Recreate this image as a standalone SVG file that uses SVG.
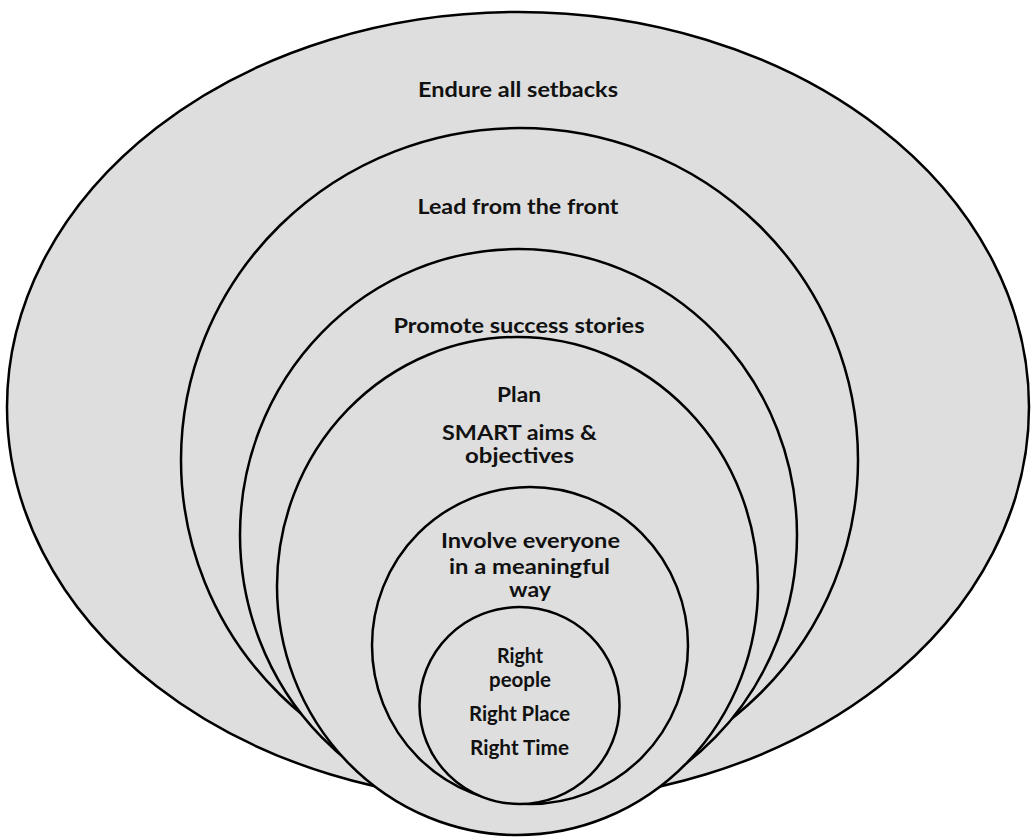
<svg xmlns="http://www.w3.org/2000/svg" width="1033" height="837" viewBox="0 0 1033 837">
<style>
.ring{fill:#dedede;stroke:#000;stroke-width:2.5}
.t{font-family:Lato,"Open Sans","Liberation Sans",sans-serif;font-weight:bold;font-size:21px;fill:#111;text-anchor:middle}
</style>
<rect width="1033" height="837" fill="#fff"/>
<g id="endure">
<ellipse class="ring" cx="518" cy="407" rx="511" ry="395"/>
<text class="t" x="518" y="97" textLength="200" lengthAdjust="spacingAndGlyphs">Endure all setbacks</text>
</g>
<g id="lead">
<ellipse class="ring" cx="519.5" cy="460" rx="338.5" ry="332"/>
<text class="t" x="518" y="214" textLength="201" lengthAdjust="spacingAndGlyphs">Lead from the front</text>
</g>
<g id="promote">
<ellipse class="ring" cx="518.5" cy="535" rx="278.5" ry="286"/>
<text class="t" x="519" y="333" textLength="251" lengthAdjust="spacingAndGlyphs">Promote success stories</text>
</g>
<g id="plan">
<ellipse class="ring" cx="517.5" cy="586" rx="240.5" ry="249"/>
<text class="t" x="519" y="402" textLength="44" lengthAdjust="spacingAndGlyphs">Plan</text>
<text class="t" x="519.5" y="440" textLength="155" lengthAdjust="spacingAndGlyphs">SMART aims &amp;</text>
<text class="t" x="519.5" y="463" textLength="109" lengthAdjust="spacingAndGlyphs">objectives</text>
</g>
<g id="involve">
<ellipse class="ring" cx="530" cy="645.5" rx="158" ry="158.5"/>
<text class="t" x="530.5" y="548" textLength="179" lengthAdjust="spacingAndGlyphs">Involve everyone</text>
<text class="t" x="529.5" y="574" textLength="161" lengthAdjust="spacingAndGlyphs">in a meaningful</text>
<text class="t" x="530" y="597" textLength="42" lengthAdjust="spacingAndGlyphs">way</text>
</g>
<g id="right">
<ellipse class="ring" cx="519.5" cy="705.5" rx="100" ry="98.5"/>
<text class="t" x="520" y="663" textLength="46" lengthAdjust="spacingAndGlyphs">Right</text>
<text class="t" x="520" y="687" textLength="62" lengthAdjust="spacingAndGlyphs">people</text>
<text class="t" x="519.5" y="721" textLength="101" lengthAdjust="spacingAndGlyphs">Right Place</text>
<text class="t" x="519.5" y="755" textLength="99" lengthAdjust="spacingAndGlyphs">Right Time</text>
</g>
<g id="connectors"/>
</svg>
